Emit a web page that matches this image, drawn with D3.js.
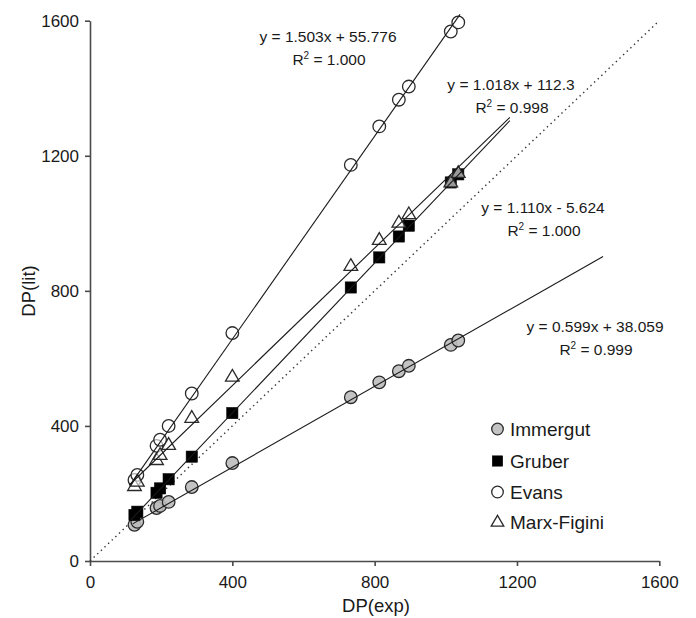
<!DOCTYPE html>
<html>
<head>
<meta charset="utf-8">
<script src="https://cdn.jsdelivr.net/npm/d3@7"></script>
<style>
  html, body { margin: 0; padding: 0; background: #fff; }
  svg { display: block; font-family: "Liberation Sans", Arial, sans-serif; }
</style>
</head>
<body>
<svg id="chart" width="696" height="618"></svg>
<script>
// Degree of polymerisation: experimental (x) vs literature models (y)
const dpExp = [125, 133, 187, 197, 221, 286, 400, 733, 813, 868, 896, 1014, 1035];

const immergut   = [107, 116, 157, 163, 175, 219, 290, 485, 529, 562, 578, 640, 653];
const gruber     = [136, 146, 202, 215, 242, 309, 438, 810, 899, 961, 993, 1121, 1145];
const evans      = [240, 255, 341, 359, 400, 496, 675, 1173, 1287, 1366, 1405, 1568, 1595];
const marxFigini = [222, 235, 299, 314, 344, 424, 546, 874, 951, 1002, 1027, 1121, 1149];

const seriesNames = ["Immergut", "Gruber", "Evans", "Marx-Figini"];

// Linear fits (slope, intercept, R²) and the x-range each fit line spans
const fitSlopes     = [0.599, 1.110, 1.503, 1.018];
const fitIntercepts = [38.059, -5.624, 55.776, 112.3];
const fitR2         = ["0.999", "1.000", "1.000", "0.998"];
const fitXStart     = [120, 115, 112, 110];
const fitXEnd       = [1442, 1180, 1040, 1180];
const fitLabels = [
  "y = 0.599x + 38.059",
  "y = 1.110x - 5.624",
  "y = 1.503x + 55.776",
  "y = 1.018x + 112.3"
];

const axisTicks = [0, 400, 800, 1200, 1600];

const svg = d3.select("#chart");
const x = d3.scaleLinear().domain([0, 1600]).range([90, 659.3]);
const y = d3.scaleLinear().domain([0, 1600]).range([561, 20.7]);

const axisColor = "#4a4a4a";

// Axes
const xAxis = d3.axisBottom(x).tickValues(axisTicks).tickFormat(d3.format("d"))
  .tickSize(5).tickPadding(10).tickSizeOuter(0);
const yAxis = d3.axisLeft(y).tickValues(axisTicks).tickFormat(d3.format("d"))
  .tickSize(5).tickPadding(6).tickSizeOuter(0);

const gx = svg.append("g").attr("transform", `translate(0,${y(0)})`).call(xAxis);
const gy = svg.append("g").attr("transform", `translate(${x(0)},0)`).call(yAxis);
[gx, gy].forEach(g => {
  g.select(".domain").attr("stroke", axisColor).attr("stroke-width", 1.6);
  g.selectAll(".tick line").attr("stroke", axisColor).attr("stroke-width", 1.6);
  g.selectAll(".tick text")
    .attr("fill", "#1a1a1a")
    .style("font-size", "17px")
    .style("font-family", "'Liberation Sans', Arial, sans-serif");
});

// Axis titles
svg.append("text")
  .attr("x", 376).attr("y", 612)
  .attr("text-anchor", "middle")
  .attr("fill", "#1a1a1a")
  .style("font-size", "18.5px")
  .text("DP(exp)");

svg.append("text")
  .attr("transform", "translate(35,291) rotate(-90)")
  .attr("text-anchor", "middle")
  .attr("fill", "#1a1a1a")
  .style("font-size", "18.5px")
  .text("DP(lit)");

// 1:1 reference line
svg.append("line")
  .attr("x1", x(0)).attr("y1", y(0))
  .attr("x2", x(1600)).attr("y2", y(1600))
  .attr("stroke", "#333")
  .attr("stroke-width", 1.4)
  .attr("stroke-dasharray", "1.4,3.6");

// Marker symbols
const markerStroke = "#2a2a2a";
function drawMarker(g, kind, cx, cy, scale) {
  const s = scale || 1;
  if (kind === "Immergut") {
    g.append("circle").attr("cx", cx).attr("cy", cy).attr("r", 6.3 * s)
      .attr("fill", "#bdbdbd").attr("fill-opacity", 0.9)
      .attr("stroke", markerStroke).attr("stroke-width", 1.3);
  } else if (kind === "Gruber") {
    const h = 5.6 * s;
    g.append("rect").attr("x", cx - h).attr("y", cy - h).attr("width", 2 * h).attr("height", 2 * h)
      .attr("fill", "#000").attr("stroke", "#000").attr("stroke-width", 0.6);
  } else if (kind === "Evans") {
    g.append("circle").attr("cx", cx).attr("cy", cy).attr("r", 6.3 * s)
      .attr("fill", "#fff").attr("fill-opacity", 0.6)
      .attr("stroke", markerStroke).attr("stroke-width", 1.3);
  } else {
    const r = 7.2 * s;
    const pts = [[cx, cy - r], [cx + r * 0.95, cy + r * 0.62], [cx - r * 0.95, cy + r * 0.62]];
    g.append("polygon").attr("points", pts.map(p => p.join(",")).join(" "))
      .attr("fill", "#fff").attr("fill-opacity", 0.6)
      .attr("stroke", markerStroke).attr("stroke-width", 1.3);
  }
}

const seriesValues = [immergut, gruber, evans, marxFigini];

// Data points
const pointsLayer = svg.append("g");
seriesValues.forEach((vals, si) => {
  const g = pointsLayer.append("g");
  vals.forEach((v, i) => drawMarker(g, seriesNames[si], x(dpExp[i]), y(v)));
});

// Fit lines
const linesLayer = svg.append("g");
seriesNames.forEach((name, si) => {
  const f = xv => fitSlopes[si] * xv + fitIntercepts[si];
  linesLayer.append("line")
    .attr("x1", x(fitXStart[si])).attr("y1", y(f(fitXStart[si])))
    .attr("x2", x(fitXEnd[si])).attr("y2", y(f(fitXEnd[si])))
    .attr("stroke", "#1a1a1a")
    .attr("stroke-width", 1.1);
});

// Fit equations
const eqX = [595, 543, 328, 511];
const eqY = [332, 213, 42, 90];
const eqLayer = svg.append("g").style("font-size", "15.5px").attr("fill", "#1a1a1a");
seriesNames.forEach((name, si) => {
  eqLayer.append("text")
    .attr("x", eqX[si]).attr("y", eqY[si])
    .attr("text-anchor", "middle")
    .text(fitLabels[si]);
  const t = eqLayer.append("text")
    .attr("x", eqX[si] + 1).attr("y", eqY[si] + 23)
    .attr("text-anchor", "middle");
  t.append("tspan").text("R");
  t.append("tspan").attr("dy", -6).style("font-size", "10px").text("2");
  t.append("tspan").attr("dy", 6).text(" = " + fitR2[si]);
});

// Legend
const legend = svg.append("g");
const legendY = [429, 461, 492, 522];
seriesNames.forEach((name, si) => {
  drawMarker(legend, name, 497.5, legendY[si], 0.92);
  legend.append("text")
    .attr("x", 510).attr("y", legendY[si] + 7)
    .attr("fill", "#1a1a1a")
    .style("font-size", "19px")
    .text(name);
});
</script>
</body>
</html>
